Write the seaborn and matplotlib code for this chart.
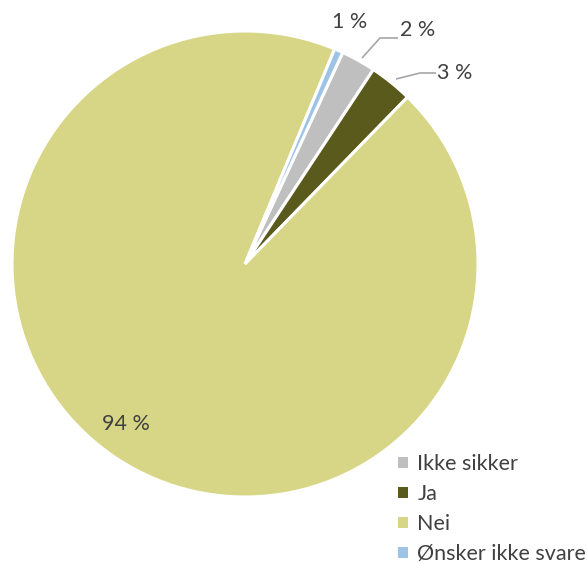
import numpy as np
import matplotlib
matplotlib.use("Agg")
import matplotlib.pyplot as plt
from matplotlib.patches import Patch
import seaborn as sns

categories = ["Ikke sikker", "Ja", "Nei", "Ønsker ikke svare"]
shares = [2.4, 3.0, 94.0, 0.6]
colors = ["#BFBFBF", "#5A5A1C", "#D7D687", "#9DC3E6"]

sns.set_theme(style="white")
plt.rcParams["font.family"] = ["Lato", "DejaVu Sans"]

W, H, DPI = 587, 564, 100
fig = plt.figure(figsize=(W / DPI, H / DPI), dpi=DPI)
ax = fig.add_axes([0, 0, 1, 1])

cx, cy, R = 245, 264, 233  # pie centre and radius in pixels
wedges, _ = ax.pie(
    shares, colors=colors, startangle=65.2, counterclock=False,
    wedgeprops=dict(edgecolor="white", linewidth=2.2),
)
ax.set_xlim(-cx / R, (W - cx) / R)
ax.set_ylim(-(H - cy) / R, cy / R)
ax.set_aspect("equal")
ax.axis("off")

lab_color = "#404040"
fs = 15.5
labels = [f"{round(v):.0f} %" for v in shares]

def px(x, y):
    return ((x - cx) / R, (cy - y) / R)

def leader(points):
    xy = np.array([px(x, y) for x, y in points])
    ax.plot(xy[:, 0], xy[:, 1], color="#A6A6A6", lw=1.2, solid_capstyle="butt")

# data labels with leader lines
leader([(362, 58), (380, 38), (398, 38)])
ax.text(*px(400, 30), labels[0], fontsize=fs, color=lab_color, ha="left", va="center")
leader([(396, 79), (420, 73), (436, 73)])
ax.text(*px(437, 73), labels[1], fontsize=fs, color=lab_color, ha="left", va="center")
ax.text(*px(350, 22), labels[3], fontsize=fs, color=lab_color, ha="center", va="center")
ax.text(*px(126, 424), labels[2], fontsize=fs, color=lab_color, ha="center", va="center")

handles = [Patch(facecolor=c, edgecolor="none") for c in colors]
fig.legend(handles, categories, loc="upper left", bbox_to_anchor=(398 / W, 1 - 454 / H),
           frameon=False, fontsize=fs, handlelength=0.45, handleheight=0.45,
           handletextpad=0.45, labelspacing=0.47, borderaxespad=0, borderpad=0,
           labelcolor=lab_color)

fig.savefig("out.png", dpi=DPI)
